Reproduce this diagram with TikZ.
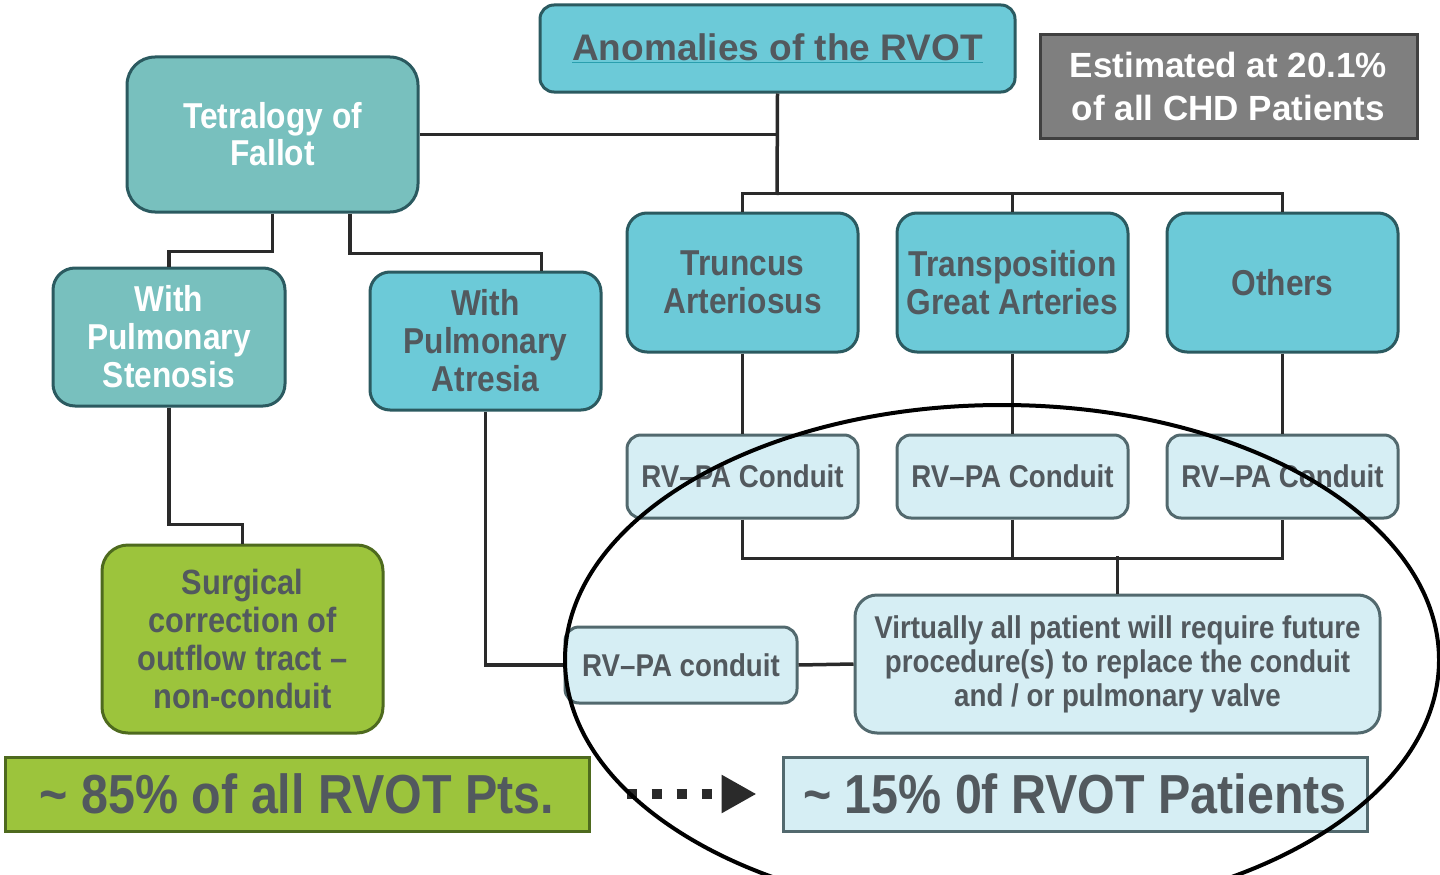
\documentclass[tikz,border=0pt]{standalone}
\usepackage{fontspec}
\setmainfont{Liberation Sans}[FakeStretch=0.88]
\newfontfamily\widefont{Liberation Sans}
\usetikzlibrary{arrows.meta}
\definecolor{cyanf}{HTML}{6CCAD8}
\definecolor{tealf}{HTML}{78C0BE}
\definecolor{lightf}{HTML}{D6EEF4}
\definecolor{greenf}{HTML}{9CC43C}
\definecolor{grayf}{HTML}{7F7F7F}
\definecolor{cyanb}{HTML}{2B5A60}
\definecolor{lightb}{HTML}{52696E}
\definecolor{greenb}{HTML}{4E6A1E}
\definecolor{txtg}{HTML}{52595E}
\definecolor{lineg}{HTML}{2A2A2A}
\definecolor{ulc}{HTML}{2A9FAE}
\begin{document}
\begin{tikzpicture}[x=1pt,y=-1pt,
  box/.style={line width=3pt, align=center, inner sep=0pt, font=\bfseries},
  cyanbox/.style={box, draw=cyanb, fill=cyanf, text=txtg, rounded corners=20pt},
  tealbox/.style={box, draw=cyanb, fill=tealf, text=white, rounded corners=22pt},
  condbox/.style={box, draw=lightb, fill=lightf, text=txtg, rounded corners=14pt},
  greenbox/.style={box, draw=greenb, fill=greenf, text=txtg, rounded corners=26pt},
  link/.style={draw=lineg, line width=3.5pt},
  f36/.style={font=\bfseries\fontsize{36pt}{38pt}\selectfont},
  f31/.style={font=\bfseries\fontsize{31.5pt}{34pt}\selectfont}
]
\clip (0,0) rectangle (1440,875);
\fill[white] (0,0) rectangle (1440,875);

% nodes
\node[cyanbox, rounded corners=14pt, minimum width=475pt, minimum height=87pt,
      font=\widefont\bfseries\fontsize{37pt}{40pt}\selectfont]
  (anom) at (777.5,48.5) {\color{ulc}\underline{\color{txtg}Anomalies of the RVOT}};
\node[box, draw=black!75, fill=grayf, text=white, line width=3pt,
      minimum width=377pt, minimum height=103pt,
      font=\widefont\bfseries\fontsize{35pt}{43pt}\selectfont]
  (est) at (1228.5,86.5) {Estimated at 20.1\%\\of all CHD Patients};

\node[tealbox, rounded corners=28pt, minimum width=291pt, minimum height=155pt,
      font=\bfseries\fontsize{36pt}{37pt}\selectfont]
  (tof) at (272.5,134.5) {Tetralogy of\\Fallot};
\node[tealbox, minimum width=232pt, minimum height=138pt, f36]
  (sten) at (169,337) {With\\Pulmonary\\Stenosis};
\node[cyanbox, minimum width=231pt, minimum height=138pt, f36]
  (atr) at (485.5,341) {With\\Pulmonary\\Atresia};

\node[cyanbox, minimum width=231pt, minimum height=139pt, f36]
  (trunc) at (742.5,282.5) {Truncus\\Arteriosus};
\node[cyanbox, minimum width=231pt, minimum height=139pt, f36]
  (trans) at (1012.5,282.5) {Transposition\\Great Arteries};
\node[cyanbox, minimum width=231pt, minimum height=139pt, f36]
  (oth) at (1282.5,282.5) {Others};

\node[condbox, minimum width=231pt, minimum height=83pt, f31]
  (c1) at (742.5,476.5) {RV--PA Conduit};
\node[condbox, minimum width=231pt, minimum height=83pt, f31]
  (c2) at (1012.5,476.5) {RV--PA Conduit};
\node[condbox, minimum width=231pt, minimum height=83pt, f31]
  (c3) at (1282.5,476.5) {RV--PA Conduit};

\node[condbox, minimum width=232pt, minimum height=76pt, f31]
  (cl) at (681,665) {RV--PA conduit};
\node[condbox, rounded corners=22pt, minimum width=525pt, minimum height=138pt,
      font=\bfseries\fontsize{31.5pt}{34pt}\selectfont]
  (virt) at (1117.5,664) {Virtually all patient will require future\\procedure(s) to replace the conduit\\and / or pulmonary valve};

\node[greenbox, minimum width=281pt, minimum height=188pt,
      font=\bfseries\fontsize{35pt}{38pt}\selectfont]
  (surg) at (242.5,639) {Surgical\\correction of\\outflow tract --\\non-conduit};

\node[box, draw=greenb, fill=greenf, text=txtg,
      minimum width=584pt, minimum height=74pt,
      font=\bfseries\fontsize{55pt}{58pt}\selectfont]
  (p85) at (297,794) {\textasciitilde{} 85\% of all RVOT Pts.};
\node[box, draw=lightb, fill=lightf, text=txtg,
      minimum width=584pt, minimum height=74pt,
      font=\bfseries\fontsize{55pt}{58pt}\selectfont]
  (p15) at (1075,794) {\textasciitilde{} 15\% 0f RVOT Patients};

% connectors
\coordinate (bar) at (777,195);
\path[link] (anom.south) -- (bar);
\path[link] (trunc.north) -- ++(0,-18) -| (oth.north);
\path[link] (trans.north) -- ++(0,-18);
\path[link] (tof.east) -- (tof.east -| anom.south);

\path[link] (tof.south) -- ++(0,38) -| (sten.north);
\path[link] ([xshift=77.5pt]tof.south) -- ++(0,40) -| ([xshift=56pt]atr.north);
\path[link] (sten.south) -- ++(0,117) -| (surg.north);
\path[link] (atr.south) |- (cl.west);

\path[link] (trunc.south) -- (c1.north);
\path[link] (trans.south) -- (c2.north);
\path[link] (oth.south) -- (c3.north);
\path[link] (c1.south) -- ++(0,39) -| (c3.south);
\path[link] (c2.south) -- ++(0,39);
\path[link] (virt.north) -- ++(0,-38);
\path[link] (cl.east) -- (virt.west);

\draw[draw=lineg, line width=10pt, dash pattern=on 10pt off 15pt,
      shorten <=36pt, shorten >=25pt,
      -{Triangle[length=35pt,width=36pt]}] (p85.east) -- (p15.west);

% ellipse
\draw[black, line width=4pt] (1002,660) ellipse [x radius=437pt, y radius=255pt];
\end{tikzpicture}
\end{document}
